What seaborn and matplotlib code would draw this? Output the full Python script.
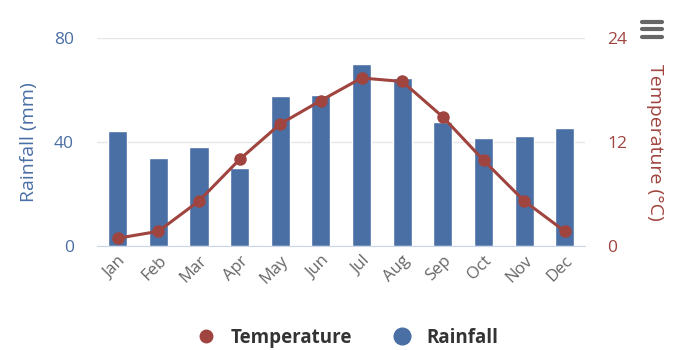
import numpy as np
import pandas as pd
import seaborn as sns
import matplotlib.pyplot as plt
from matplotlib.lines import Line2D

months = ["Jan", "Feb", "Mar", "Apr", "May", "Jun",
          "Jul", "Aug", "Sep", "Oct", "Nov", "Dec"]
rainfall = [44.2, 33.8, 38.0, 30.0, 57.7, 58.2, 70.0, 64.6, 47.7, 41.6, 42.3, 45.4]
temperature = [0.9, 1.7, 5.2, 10.0, 14.1, 16.8, 19.4, 19.0, 14.9, 9.9, 5.2, 1.7]

blue = "#4a6fa5"
red = "#a0443f"
axis_col = "#ccd6eb"

sns.set_style("white")
plt.rcParams["font.family"] = ["Open Sans", "DejaVu Sans"]

df = pd.DataFrame({"Month": months, "Rainfall": rainfall,
                   "Temperature": temperature, "idx": range(len(months))})

fig = plt.figure(figsize=(7, 3.5), dpi=100)
ax = fig.add_axes([0.139, 0.297, 0.697, 0.594])

# Rainfall bars
sns.barplot(data=df, x="Month", y="Rainfall", color=blue, width=0.47,
            saturation=1, ax=ax, zorder=2)
ax.set_ylim(0, 80)
ax.set_xlim(-0.5, 11.5)
ax.set_yticks([0, 40, 80])
ax.yaxis.grid(True, color="#e6e6e6", linewidth=1, zorder=0)
ax.set_axisbelow(True)
ax.set_xlabel("")
ax.set_ylabel("Rainfall (mm)", color=blue, fontsize=14, va="center")
ax.yaxis.set_label_coords(-0.141, 0.5)
ax.tick_params(axis="y", colors=blue, labelsize=12.5, length=0, pad=17)
ax.tick_params(axis="x", which="major", length=0, labelsize=12,
               labelcolor="#666666", pad=5)
ax.set_xticks(range(12))
ax.set_xticklabels(months, rotation=45, ha="right", rotation_mode="anchor")
ax.set_xticks(np.arange(-0.5, 12, 1), minor=True)
ax.tick_params(axis="x", which="minor", length=10, color=axis_col, width=1)
for s in ["left", "right", "top"]:
    ax.spines[s].set_visible(False)
ax.spines["bottom"].set_color(axis_col)

# Temperature line on second axis
ax2 = ax.twinx()
sns.lineplot(data=df, x="idx", y="Temperature", color=red, linewidth=2.2,
             marker="o", markersize=9, markeredgewidth=0, ax=ax2, zorder=3)
ax2.set_ylim(0, 24)
ax2.set_xlim(-0.5, 11.5)
ax2.set_yticks([0, 12, 24])
ax2.set_ylabel("Temperature (°C)", color=red, fontsize=14, rotation=270,
               va="center")
ax2.yaxis.set_label_coords(1.143, 0.5)
ax2.tick_params(axis="y", colors=red, labelsize=12.5, length=0, pad=16)
for s in ["left", "right", "top", "bottom"]:
    ax2.spines[s].set_visible(False)
ax2.set_xlabel("")

# Legend
handles = [
    Line2D([], [], marker="o", linestyle="none", color=red, markersize=9),
    Line2D([], [], marker="o", linestyle="none", color=blue, markersize=12),
]
fig.legend(handles, ["Temperature", "Rainfall"], loc="center",
           bbox_to_anchor=(0.49, 0.035), ncol=2, frameon=False,
           prop={"weight": "bold", "size": 13.5}, labelcolor="#333333",
           handletextpad=0.3, columnspacing=1.7)

# Menu icon
for yy in [0.937, 0.916, 0.894]:
    fig.add_artist(Line2D([0.917, 0.946], [yy, yy], color="#666666",
                          linewidth=3, solid_capstyle="round"))

plt.savefig("out.png", dpi=100)
